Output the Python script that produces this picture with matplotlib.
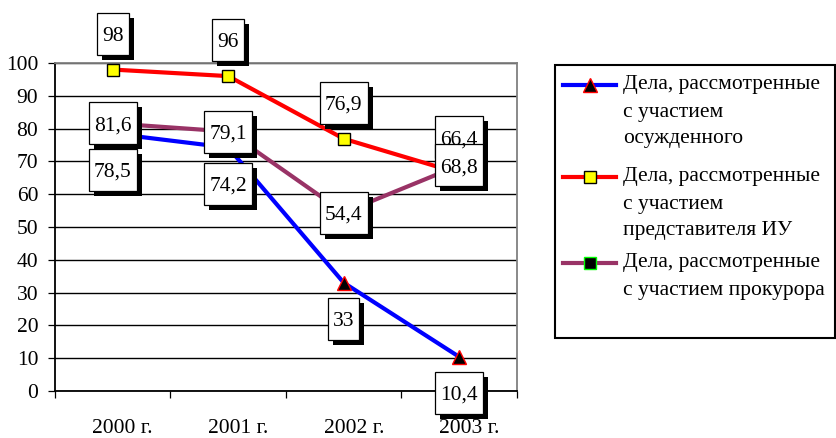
import matplotlib
matplotlib.use("Agg")
import matplotlib.pyplot as plt
import matplotlib.transforms as mtransforms
from matplotlib.patches import Rectangle
from matplotlib.lines import Line2D

plt.rcParams['font.family'] = ['Liberation Serif', 'DejaVu Serif']

years = ["2000 г.", "2001 г.", "2002 г.", "2003 г."]
convicted = [78.5, 74.2, 33, 10.4]
institution = [98, 96, 76.9, 66.4]
prosecutor = [81.6, 79.1, 54.4, 68.8]
convicted_txt = ["78,5", "74,2", "33", "10,4"]
institution_txt = ["98", "96", "76,9", "66,4"]
prosecutor_txt = ["81,6", "79,1", "54,4", "68,8"]
names = ["Дела, рассмотренные\nс участием\nосужденного",
         "Дела, рассмотренные\nс участием\nпредставителя ИУ",
         "Дела, рассмотренные\nс участием прокурора"]

# series style: colour, marker, face, edge, marker size, label offset in px (up = +)
series = [
    (convicted, convicted_txt, "#0000FF", "^", "black", "#FF0000", 10, -36),
    (institution, institution_txt, "#FF0000", "s", "#FFFF00", "black", 9, 36),
    (prosecutor, prosecutor_txt, "#993366", "s", "black", "#00FF00", 8, 0),
]

FS = 15.5
W, H = 837, 438
fig = plt.figure(figsize=(W / 100, H / 100), dpi=100)
ax = fig.add_axes([55 / W, 1 - 391 / H, 462 / W, 328 / H])

x = list(range(len(years)))
for vals, txt, col, mk, fc, ec, ms, dy in series:
    ax.plot(x, vals, color=col, lw=3, marker=mk, markersize=ms,
            markerfacecolor=fc, markeredgecolor=ec, markeredgewidth=1,
            zorder=3, clip_on=False)

ax.set_xlim(-0.5, len(years) - 0.5)
ax.set_ylim(0, 100)
ax.set_yticks(range(0, 101, 10))
ax.set_xticks(x)
ax.set_xticklabels(years)
ax.set_xticks([i - 0.5 for i in range(len(years) + 1)], minor=True)
ax.tick_params(axis='x', which='major', length=0, pad=20, labelsize=FS)
ax.tick_params(axis='x', which='minor', length=5, width=0.9, direction='out')
ax.tick_params(axis='y', length=5, width=0.9, pad=7, labelsize=FS)
shift = mtransforms.ScaledTranslation(10 / 100, 0, fig.dpi_scale_trans)
for lab in ax.get_xticklabels():
    lab.set_transform(lab.get_transform() + shift)

ax.yaxis.grid(True, color='black', lw=1.0)
ax.set_axisbelow(True)
for s in ['left', 'bottom']:
    ax.spines[s].set_color('black')
    ax.spines[s].set_linewidth(1.3)
for s in ['top', 'right']:
    ax.spines[s].set_color('#808080')
    ax.spines[s].set_linewidth(1.3)

# data label boxes with shadow, in pixel coordinates
ident = mtransforms.IdentityTransform()
fig.canvas.draw()
for vals, txt, col, mk, fc, ec, ms, dy in series:
    for xi, v, t in zip(x, vals, txt):
        px, py = ax.transData.transform((xi, v))
        py += dy
        w = 15 + 8.25 * len(t)
        h = 42
        fig.add_artist(Rectangle((px - w / 2 + 5, py - h / 2 - 5), w, h,
                                 facecolor='black', edgecolor='none',
                                 transform=ident, zorder=5))
        fig.add_artist(Rectangle((px - w / 2, py - h / 2), w, h,
                                 facecolor='white', edgecolor='black', lw=0.9,
                                 transform=ident, zorder=5))
        fig.text(px, py, t, ha='center', va='center_baseline', fontsize=FS,
                 transform=ident, zorder=6)

# legend drawn by hand (Excel style: marker on first text line)
lx0, ly0, lx1, ly1 = 555, 65, 835, 338
fig.add_artist(Rectangle((lx0, H - ly1), lx1 - lx0, ly1 - ly0,
                         facecolor='white', edgecolor='black', lw=1.5,
                         transform=ident, zorder=4))
tops = [85, 177, 263]
for (vals, txt, col, mk, fc, ec, ms, dy), name, ty in zip(series, names, tops):
    fig.add_artist(Line2D([563, 616], [H - ty, H - ty], color=col, lw=3,
                          transform=ident, zorder=5))
    fig.add_artist(Line2D([589.5], [H - ty], color=col, marker=mk,
                          markersize=ms, markerfacecolor=fc,
                          markeredgecolor=ec, markeredgewidth=1,
                          transform=ident, zorder=6))
    for k, line in enumerate(name.split("\n")):
        fig.text(623, H - ty - 27 * k, line, ha='left', va='center',
                 fontsize=FS, transform=ident, zorder=6)

fig.savefig("out.png", dpi=100)
